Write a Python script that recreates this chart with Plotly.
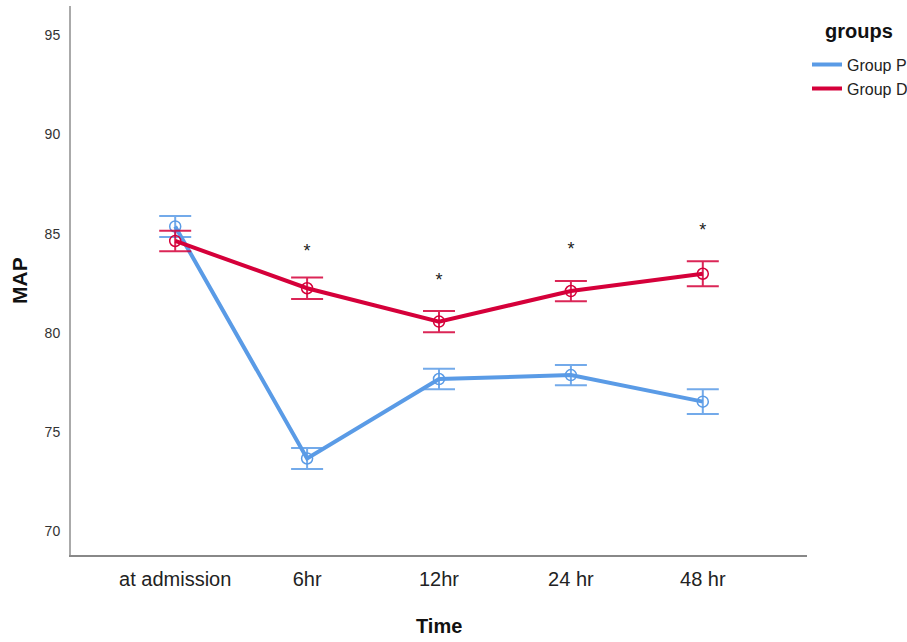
import plotly.graph_objects as go

# ---- data ----
time_points = ["at admission", "6hr", "12hr", "24 hr", "48 hr"]
group_p_mean = [85.36, 73.68, 77.68, 77.88, 76.54]
group_p_err = [0.53, 0.53, 0.52, 0.51, 0.62]
group_d_mean = [84.63, 82.25, 80.57, 82.11, 82.98]
group_d_err = [0.52, 0.54, 0.53, 0.51, 0.63]
sig_points = ["6hr", "12hr", "24 hr", "48 hr"]
sig_y = [84.07, 82.61, 84.17, 85.13]
sig_text = ["*", "*", "*", "*"]
y_ticks = [70, 75, 80, 85, 90, 95]

BLUE = "#5A9BE6"
RED = "#D5003A"
FONT = "Liberation Sans, Arial, sans-serif"

fig = go.Figure()

groups = [
    ("Group P", group_p_mean, group_p_err, BLUE, "rgba(90,155,230,0.85)"),
    ("Group D", group_d_mean, group_d_err, RED, "rgba(213,0,58,0.85)"),
]
for name, mean, err, col, ecol in groups:
    fig.add_trace(go.Scatter(
        x=time_points, y=mean, name=name, mode="lines",
        line=dict(color=col, width=4), legendgroup=name,
    ))
    fig.add_trace(go.Scatter(
        x=time_points, y=mean, name=name, mode="markers", showlegend=False,
        legendgroup=name,
        marker=dict(symbol="circle-open", size=11, color=col, line=dict(width=1.5)),
        error_y=dict(type="data", array=err, visible=True,
                     color=ecol, thickness=2, width=16),
    ))

fig.add_trace(go.Scatter(
    x=sig_points, y=sig_y, mode="text", text=sig_text, showlegend=False,
    textfont=dict(family=FONT, size=18, color="#222222"),
    textposition="middle center", hoverinfo="skip",
))

fig.update_layout(
    width=907, height=642, autosize=False,
    margin=dict(l=71, r=100, t=6, b=87, autoexpand=False),
    paper_bgcolor="white", plot_bgcolor="white",
    font=dict(family=FONT, color="#222222"),
    showlegend=True,
    legend=dict(
        font=dict(family=FONT, size=16, color="#222222"),
        x=1.0, y=0.924, xanchor="left", yanchor="top",
        itemwidth=30, tracegroupgap=0, bgcolor="rgba(0,0,0,0)",
    ),
    xaxis=dict(
        range=[-0.79, 4.79], showgrid=False, zeroline=False, automargin=False,
        showline=True, linecolor="#888888", linewidth=2,
        ticks="", tickfont=dict(family=FONT, size=20, color="#222222"),
        ticklabelstandoff=5,
    ),
    yaxis=dict(
        range=[68.82, 96.46], showgrid=False, zeroline=False, automargin=False,
        showline=True, linecolor="#AAAAAA", linewidth=2,
        tickvals=y_ticks, ticks="",
        tickfont=dict(family=FONT, size=14, color="#333333"),
        ticklabelstandoff=6,
    ),
    annotations=[
        dict(text="<b>Time</b>", xref="paper", yref="paper", x=0.5, y=-0.13,
             xanchor="center", yanchor="middle", showarrow=False,
             font=dict(family=FONT, size=20, color="#111111")),
        dict(text="<b>MAP</b>", xref="paper", yref="paper", x=-0.07, y=0.5,
             xanchor="center", yanchor="middle", showarrow=False, textangle=-90,
             font=dict(family=FONT, size=21, color="#111111")),
        dict(text="<b>groups</b>", xref="paper", yref="paper", x=1.071, y=0.955,
             xanchor="center", yanchor="middle", showarrow=False,
             font=dict(family=FONT, size=20, color="#111111")),
    ],
)

fig.write_html("out.html", config={"displayModeBar": False},
               post_script="document.body.style.margin='0';")
